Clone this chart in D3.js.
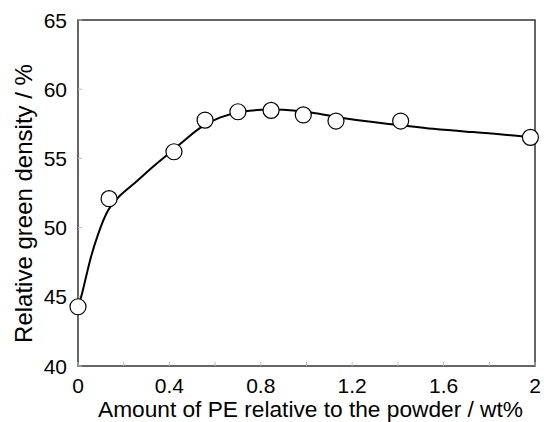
<!DOCTYPE html>
<html>
<head>
<meta charset="utf-8">
<script src="https://cdn.jsdelivr.net/npm/d3@7"></script>
<style>
  body { margin: 0; background: #fff; }
  svg { display: block; font-family: Arial, "Liberation Sans", sans-serif; }
</style>
</head>
<body>
<svg id="chart" width="544" height="422"></svg>
<script>
// measured points (PE amount / wt%, relative green density / %)
var peAmount = [0, 0.136, 0.42, 0.556, 0.70, 0.845, 0.986, 1.129, 1.412, 1.98]
var density = [44.28, 52.09, 55.48, 57.77, 58.37, 58.47, 58.14, 57.70, 57.70, 56.52]

// fitted curve
var curveX = [0, 0.016, 0.051, 0.088, 0.131, 0.175, 0.248, 0.30, 0.35, 0.416, 0.48, 0.534, 0.621, 0.722, 0.840, 0.941, 1.045, 1.160, 1.307, 1.409, 1.554, 1.701, 1.847, 1.983]
var curveY = [44.3, 45.0, 47.66, 49.59, 51.39, 52.23, 53.20, 54.0, 54.7, 55.6, 56.5, 57.27, 58.01, 58.45, 58.55, 58.50, 58.26, 57.90, 57.58, 57.41, 57.12, 56.93, 56.76, 56.52]

var xTicks = [0, 0.4, 0.8, 1.2, 1.6, 2]
var xMinor = [0.2, 0.6, 1.0, 1.4, 1.8]
var yTicks = [40, 45, 50, 55, 60, 65]

const margin = {top: 20, right: 9, bottom: 56, left: 78}
const svg = d3.select('#chart')
const width = 544 - margin.left - margin.right
const height = 422 - margin.top - margin.bottom
const g = svg.append('g').attr('transform', `translate(${margin.left},${margin.top})`)

const x = d3.scaleLinear().domain([0, 2]).range([0, width])
const y = d3.scaleLinear().domain([40, 65]).range([height, 0])

//frame
g.append('rect').attr('width', width).attr('height', height)
  .attr('fill', 'none').attr('stroke', '#333').attr('stroke-width', 1.5)

//inward ticks
g.selectAll('.xt').data(xTicks.concat(xMinor)).join('line')
  .attr('x1', d => x(d)).attr('x2', d => x(d))
  .attr('y1', height).attr('y2', height - 4)
  .attr('stroke', '#bbb').attr('stroke-width', 1)
g.selectAll('.yt').data(yTicks).join('line')
  .attr('x1', 0).attr('x2', 4)
  .attr('y1', d => y(d)).attr('y2', d => y(d))
  .attr('stroke', '#bbb').attr('stroke-width', 1)

//tick labels
g.selectAll('.xl').data(xTicks).join('text')
  .attr('x', d => x(d)).attr('y', height + 27)
  .attr('text-anchor', 'middle').style('font-size', '21px')
  .text(d => d)
g.selectAll('.yl').data(yTicks).join('text')
  .attr('x', -11).attr('y', d => y(d) + 7.5)
  .attr('text-anchor', 'end').style('font-size', '21px')
  .text(d => d)

//curve
const line = d3.line().x(d => x(d[0])).y(d => y(d[1])).curve(d3.curveBasis)
g.append('path').datum(curveX.map((v, i) => [v, curveY[i]]))
  .attr('d', line).attr('fill', 'none').attr('stroke', '#000').attr('stroke-width', 2)

//markers
g.selectAll('circle').data(peAmount.map((v, i) => [v, density[i]])).join('circle')
  .attr('cx', d => x(d[0])).attr('cy', d => y(d[1])).attr('r', 8)
  .attr('fill', '#fff').attr('stroke', '#000').attr('stroke-width', 1.2)

//axis titles
svg.append('text').attr('x', 310.5).attr('y', 417)
  .attr('text-anchor', 'middle').style('font-size', '22.7px')
  .text('Amount of PE relative to the powder / wt%')
svg.append('text').attr('transform', 'translate(32,203.5) rotate(-90)')
  .attr('text-anchor', 'middle').style('font-size', '24px')
  .text('Relative green density / %')
</script>
</body>
</html>
